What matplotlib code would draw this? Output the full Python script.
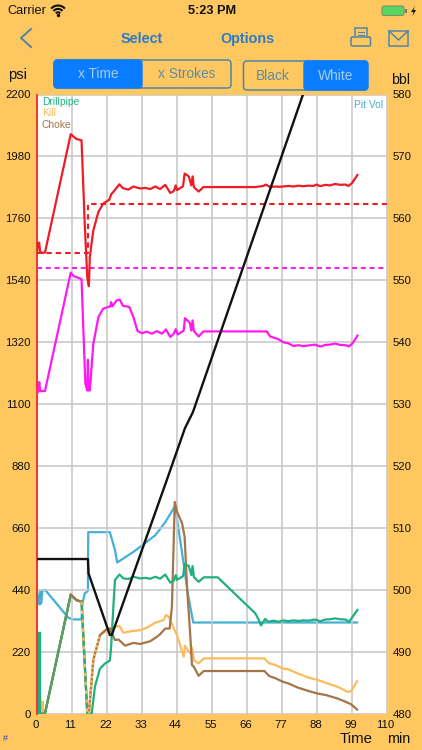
import matplotlib
matplotlib.use("Agg")
import matplotlib.pyplot as plt
from matplotlib.patches import FancyBboxPatch, Rectangle, Arc, Polygon
from matplotlib.transforms import ScaledTranslation
import numpy as np

plt.rcParams['font.family'] = ['Liberation Sans', 'DejaVu Sans']

x_ticks = [0, 11, 22, 33, 44, 55, 66, 77, 88, 99, 110]
psi_ticks = [0, 220, 440, 660, 880, 1100, 1320, 1540, 1760, 1980, 2200]
bbl_ticks = [480, 490, 500, 510, 520, 530, 540, 550, 560, 570, 580]

dp_target_t = [0, 2.5, 16, 16, 110]
dp_target_psi = [1637, 1637, 1637, 1812, 1812]
kill_target_t = [0, 110]
kill_target_psi = [1582, 1582]

red_t = [0,0.3,0.7,1,2.5,10.6,12.4,14,15,15.8,16.3,16.6,17.7,19.3,20.8,22.7,23.3,24,25.9,27,28.7,30.3,32.4,34,35.6,37.2,38.7,40.3,41.9,43,43.6,44,45.9,46.4,47.7,48.5,48.9,49.3,50.8,52.3,68.6,71.2,71.9,73.3,74.8,76.4,79,80.6,82.2,83.7,85.3,86.9,87.9,89,90.6,92.1,93.7,95.3,96.9,97.9,99,100.7]
red_psi = [1640,1673,1673,1638,1638,2059,2042,2037,1741,1551,1519,1622,1717,1783,1812,1826,1845,1854,1881,1867,1862,1873,1866,1868,1864,1873,1864,1879,1850,1857,1877,1860,1874,1919,1909,1877,1909,1871,1855,1871,1871,1875,1880,1871,1873,1872,1875,1873,1876,1874,1876,1875,1880,1874,1879,1877,1882,1879,1880,1875,1885,1914]

mag_t = [0,0.3,0.7,1,2.5,10.6,11.6,14,14.5,15.2,15.8,16,16.2,16.6,17.7,19.3,20.8,23,23.3,23.7,25,26,27,29,30.3,31.6,33,34.5,36.1,37.7,39.3,40.5,41.9,43,43.6,44.2,46.1,46.5,48,48.5,48.9,49.3,50.8,52.3,72.2,73.3,75.9,77.5,79,80.6,82.2,83.7,85.3,87.4,89,90.6,92.1,93.7,95.3,96.9,98.1,99.2,100.7]
mag_psi = [1136,1142,1178,1146,1146,1567,1554,1544,1385,1172,1148,1257,1148,1148,1314,1409,1439,1447,1462,1447,1468,1471,1449,1445,1409,1359,1352,1357,1350,1359,1350,1365,1338,1350,1366,1347,1361,1405,1389,1361,1397,1359,1340,1358,1358,1340,1330,1319,1316,1306,1309,1306,1308,1311,1304,1310,1311,1315,1310,1309,1305,1316,1343]

green_spike_t = [0.6, 0.6]
green_spike_psi = [0, 285]
green_t = [0.6,2.5,10.6,12.4,14,15.8,17.2,18.2,19.8,21.4,22.9,23.3,24,24.5,25.9,27.2,28.7,30.3,32.4,34,35.6,37.2,38.7,40.3,41.9,43,43.6,44,45.9,46.4,47.7,48.5,48.9,49.3,50.8,52.4,56.8,68.6,69.6,70.4,71.7,72.7,74.3,75.9,77.5,79,80.6,82.2,83.7,85.3,87.4,89,90.6,92.1,93.7,95.3,96.9,98.1,99.2,100.7]
green_psi = [0,0,422,403,397,0,0,95,160,178,188,237,379,474,494,480,478,486,480,482,479,486,479,494,465,472,492,475,488,533,524,492,524,485,468,484,484,356,335,313,336,326,330,326,331,328,331,329,331,330,334,328,334,335,338,335,334,326,344,368]

kill_spike_t = [1.45, 1.45]
kill_spike_psi = [0, 41]
kill_t = [2.5,10.6,12.4,14,15.8,16.3,17.7,19.8,22.9,24.5,25.9,27.2,29.8,32.4,34.5,37.2,39.8,40.5,41.4,43,44,46.1,46.5,48.2,48.7,49.3,50.8,52.4,71.5,73,75,77.2,79,82,85,88.2,91,94.5,97.6,98.7,100.6]
kill_psi = [0,422,403,397,0,0,190,279,302,308,311,287,293,296,305,323,332,350,344,302,279,202,240,213,234,190,178,196,196,178,172,160,157,142,129,119,108,95,77,79,114]

choke_t = [2.5,10.6,12.4,14,15.8,16.3,17.7,19.8,21.9,22.9,24.5,25.6,27.7,30.3,32.4,35.6,37.7,38.7,40.3,41.7,42.4,43.3,44,45.6,46.4,47.2,48.2,48.7,49.3,50.8,52.4,71.5,73,75,77.2,79,82,85,88.2,91,94.5,96.5,98.7,100.6]
choke_psi = [0,422,403,397,0,0,190,279,300,302,261,263,241,251,247,257,273,282,302,302,379,752,717,676,628,439,273,172,166,134,151,151,133,125,113,107,92,81,71,65,53,44,33,14]

pit_t = [0,0.4,0.8,1,1.3,1.7,2.5,9.8,11.2,14,14.3,15,16,16.1,22.9,24.5,25.2,30.3,37.2,40.3,43.4,45.6,47.5,49.1,100.6]
pit_bbl = [499.7,498.7,497.6,499.7,497.8,499.8,500,495.5,495.2,495.2,497.8,499.4,499.8,509.3,509.3,506.4,504.4,506.1,508.8,510.9,513.5,505.9,499.1,494.7,494.7]

black_t = [0,16,16.2,22.9,23.5,40.8,46.5,49,83.6]
black_psi = [549,549,498,279,279,830,1014,1071,2200]

BG = '#FFC760'
GRID = '#C9C9C9'
C_RED = '#EE1C25'
C_MAG = '#FF19F0'
C_GREEN = '#1FB07E'
C_OLIVE = '#5E9C63'
C_KILL = '#FDBC5C'
C_CHOKE = '#A5744A'
C_PIT = '#45AFD6'
C_BLUE = '#0A7CFF'
C_NAV = '#2B7CC8'
C_OUT = '#4F86A8'

W, H = 422, 750
fig = plt.figure(figsize=(W/100, H/100), dpi=100, facecolor=BG)
ax = fig.add_axes([37/W, 1-713.5/H, 350/W, 619/H], facecolor='white')
ax.set_xlim(0, 110)
ax.set_ylim(0, 2200)
ax.set_xticks(x_ticks)
ax.set_yticks(psi_ticks)
ax.grid(True, color=GRID, lw=1.2)
ax.set_axisbelow(True)
for s in ['top', 'right', 'bottom']:
    ax.spines[s].set_visible(False)
ax.spines['left'].set_color(C_RED)
ax.spines['left'].set_linewidth(1.2)
ax.tick_params(length=0, labelsize=8.2, colors='#111111')
ax.tick_params(axis='x', pad=5)
ax.tick_params(axis='y', pad=4.5)
shift = ScaledTranslation(-1.5/100, 0, fig.dpi_scale_trans)
for lab in ax.get_xticklabels():
    lab.set_transform(lab.get_transform() + shift)

ax2 = ax.twinx()
ax2.set_ylim(480, 580)
ax2.set_yticks(bbl_ticks)
ax2.tick_params(length=0, labelsize=8.2, colors='#111111', pad=4)
for s in ax2.spines.values():
    s.set_visible(False)

LW = 1.6
ax.plot(dp_target_t, dp_target_psi, color=C_RED, lw=1.5, ls=(0, (2.6, 1.9)), zorder=3)
ax.plot(kill_target_t, kill_target_psi, color=C_MAG, lw=1.4, ls=(0, (2.6, 1.9)), zorder=3)
ax.plot(red_t, red_psi, color=C_RED, lw=LW, zorder=4)
ax.plot(mag_t, mag_psi, color=C_MAG, lw=LW, zorder=4)
ax.plot(kill_spike_t, kill_spike_psi, color=C_KILL, lw=2.2, zorder=4)
ax.plot(choke_t, choke_psi, color=C_CHOKE, lw=LW, zorder=4.1)
ax.plot(kill_t, kill_psi, color=C_KILL, lw=LW, zorder=4.05)
ax.plot(green_t, green_psi, color=C_GREEN, lw=LW, zorder=4.2)
ax.plot(green_spike_t, green_spike_psi, color=C_GREEN, lw=2.4, zorder=4.2)
ax2.plot(pit_t, pit_bbl, color=C_PIT, lw=LW, zorder=3)
ax.plot(black_t, black_psi, color='#111111', lw=1.7, zorder=5)
# shared stretches of the pump traces, where the colours overlap in the source
ax.plot(green_t[1:3], green_psi[1:3], color=C_OLIVE, lw=LW, zorder=4.3)
ax.plot(choke_t[1:4], choke_psi[1:4], color=C_CHOKE, lw=LW, zorder=4.3)
ax.plot(kill_t[3:5], kill_psi[3:5], color=C_KILL, lw=LW, ls=(0, (1.5, 2.5)), zorder=4.3)
ax.plot(kill_t[5:8], kill_psi[5:8], color=C_KILL, lw=LW, ls=(0, (1, 1)), zorder=4.3)
ax2.set_zorder(ax.get_zorder()-1)
ax.patch.set_visible(False)
ax2.patch.set_visible(True)
ax2.patch.set_facecolor('white')

# overlay in pixel coordinates for application chrome
ui = fig.add_axes([0, 0, 1, 1], facecolor='none')
ui.set_xlim(0, W)
ui.set_ylim(H, 0)
ui.axis('off')

def T(x, y, s, size, color='#111111', ha='left', weight='normal'):
    ui.text(x, y, s, fontsize=size, color=color, ha=ha, va='center', fontweight=weight)

T(7, 11, 'Carrier', 9.2)
T(212, 11, '5:23 PM', 9.2, ha='center', weight='bold')
# wifi
for r in (19, 12.5, 6):
    ui.add_patch(Arc((58, 15.5), r, r*1.05, theta1=225, theta2=315, color='#111111', lw=1.5))
ui.plot([58], [14.5], 'o', ms=1.5, color='#111111')
# battery
ui.add_patch(FancyBboxPatch((382, 6), 22, 9.5, boxstyle='round,pad=0,rounding_size=2', fc='#55D862', ec='#8A8A6A', lw=0.8))
ui.add_patch(Rectangle((405, 9), 1.5, 3.5, fc='#777777', ec='none'))
ui.add_patch(Polygon([[415, 6], [411, 12], [413.5, 12], [412.5, 16], [416, 10], [413.5, 10]], fc='#111111', ec='none'))
# back chevron
ui.plot([31, 21, 31], [29, 38, 47], color=C_OUT, lw=1.4)
T(142, 39, 'Select', 10.4, color=C_NAV, ha='center', weight='bold')
T(247, 39, 'Options', 10.4, color=C_NAV, ha='center', weight='bold')
# printer icon
ui.add_patch(Rectangle((355, 28), 12, 11, fc='none', ec=C_OUT, lw=1.1))
ui.add_patch(FancyBboxPatch((351, 37), 19.5, 9, boxstyle='round,pad=0,rounding_size=1.5', fc=BG, ec=C_OUT, lw=1.1))
ui.plot([358, 364], [32, 32], color=C_OUT, lw=0.8)
ui.plot([358, 364], [35, 35], color=C_OUT, lw=0.8)
# mail icon
ui.add_patch(Rectangle((389, 31), 19, 15, fc='none', ec=C_OUT, lw=1.1))
ui.plot([389, 398.5, 408], [31, 40, 31], color=C_OUT, lw=1.1)

# segmented controls
ui.add_patch(FancyBboxPatch((54, 60), 177, 28, boxstyle='round,pad=0,rounding_size=3.5', fc='none', ec=C_OUT, lw=1.1))
ui.add_patch(FancyBboxPatch((54, 60), 88, 28, boxstyle='round,pad=0,rounding_size=3.5', fc=C_BLUE, ec=C_BLUE, lw=1))
ui.add_patch(Rectangle((130, 60), 12, 28, fc=C_BLUE, ec='none'))
T(98, 74.5, 'x Time', 9.9, color='#A9CDEE', ha='center')
T(187, 74.5, 'x Strokes', 9.9, color='#5C8CA8', ha='center')
ui.add_patch(FancyBboxPatch((243.5, 61), 124, 29, boxstyle='round,pad=0,rounding_size=3.5', fc='none', ec=C_OUT, lw=1.1))
ui.add_patch(FancyBboxPatch((304, 61), 64, 29, boxstyle='round,pad=0,rounding_size=3.5', fc=C_BLUE, ec=C_BLUE, lw=1))
ui.add_patch(Rectangle((304, 61), 12, 29, fc=C_BLUE, ec='none'))
T(273, 76, 'Black', 9.9, color='#5C8CA8', ha='center')
T(336, 76, 'White', 9.9, color='#A9CDEE', ha='center')

T(8, 75, 'psi', 10.6)
T(391, 80, 'bbl', 10.2)
T(340, 739, 'Time', 10.8)
T(387, 739, 'min', 10.4)
T(3, 738.5, '#', 6.5, color='#3A3AB0')

T(42, 102, 'Drillpipe', 7.4, color=C_GREEN)
T(42, 113, 'Kill', 7.4, color=C_KILL)
T(42, 125, 'Choke', 7.4, color=C_CHOKE)
T(383, 104.5, 'Pit Vol', 7.4, color=C_PIT, ha='right')

fig.savefig('out.png', dpi=100, facecolor=BG)
